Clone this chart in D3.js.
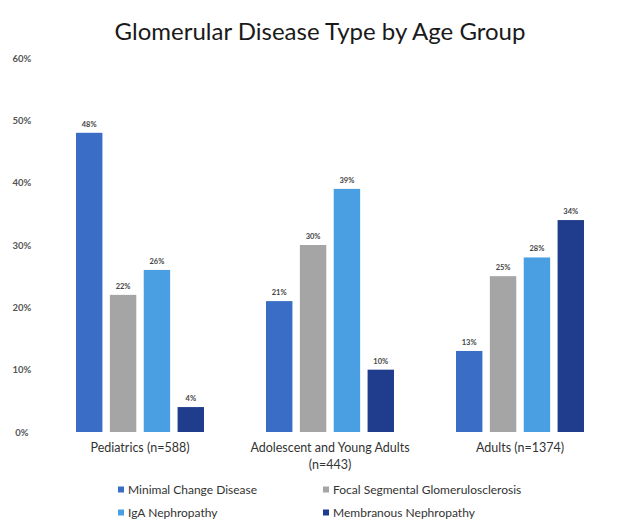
<!DOCTYPE html>
<html><head><meta charset="utf-8">
<script src="https://cdn.jsdelivr.net/npm/d3@7"></script>
<style>body{margin:0;background:#fff;}svg{display:block;font-family:Lato,"Open Sans",sans-serif;}</style>
</head><body>
<svg id="c" width="622" height="525"></svg>
<script>
const groups = ["Pediatrics (n=588)", "Adolescent and Young Adults (n=443)", "Adults (n=1374)"];
const groupLines = [["Pediatrics (n=588)"], ["Adolescent and Young Adults", "(n=443)"], ["Adults (n=1374)"]];
const series = ["Minimal Change Disease", "Focal Segmental Glomerulosclerosis", "IgA Nephropathy", "Membranous Nephropathy"];
const minimalChange = [0.48, 0.21, 0.13];
const fsgs = [0.22, 0.30, 0.25];
const igaNephropathy = [0.26, 0.39, 0.28];
const membranous = [0.04, 0.10, 0.34];
const yTicks = [0, 0.1, 0.2, 0.3, 0.4, 0.5, 0.6];
const colors = ["#3a6ec6", "#a5a5a5", "#4a9fe2", "#1f3d8c"];

const values = [minimalChange, fsgs, igaNephropathy, membranous];
const svg = d3.select("#c");

svg.append("text").attr("x", 320).attr("y", 40).attr("text-anchor", "middle")
  .attr("font-size", 24).attr("fill", "#1a1a1a").text("Glomerular Disease Type by Age Group");

const y = d3.scaleLinear().domain([0, 0.6]).range([432, 58]);
const x0 = d3.scaleBand().domain(groups).range([45, 615]);
const x1 = d3.scaleBand().domain(series).range([31, 159]).paddingInner(0.22);

const yAxis = svg.append("g").attr("transform", "translate(22,0)")
  .call(d3.axisLeft(y).tickValues(yTicks).tickFormat(d3.format(".0%")).tickSize(0));
yAxis.select(".domain").remove();
yAxis.selectAll("text").attr("text-anchor", "middle").attr("x", 0).attr("dy", "0.32em")
  .attr("font-size", 9.5).attr("font-family", "Lato, sans-serif").attr("fill", "#555").attr("font-weight", "bold");

const g = svg.append("g");
groups.forEach((grp, gi) => {
  series.forEach((s, si) => {
    const v = values[si][gi];
    const bx = x0(grp) + x1(s);
    g.append("rect").attr("x", bx).attr("y", y(v)).attr("width", x1.bandwidth())
      .attr("height", y(0) - y(v)).attr("fill", colors[si]);
    g.append("text").attr("x", bx + x1.bandwidth() / 2).attr("y", y(v) - 6)
      .attr("text-anchor", "middle").attr("font-size", 7.5).attr("font-weight", "bold")
      .attr("fill", "#444").text(d3.format(".0%")(v));
  });
});

const xAxis = svg.append("g");
groups.forEach((grp, gi) => {
  const cx = x0(grp) + x0.bandwidth() / 2;
  groupLines[gi].forEach((line, li) => {
    xAxis.append("text").attr("x", cx).attr("y", 452 + li * 17).attr("text-anchor", "middle")
      .attr("font-size", 12.5).attr("fill", "#333").text(line);
  });
});

const legendPos = [[118, 490], [323, 490], [118, 513], [323, 513]];
series.forEach((s, si) => {
  const [lx, ly] = legendPos[si];
  svg.append("rect").attr("x", lx).attr("y", ly - 3.5).attr("width", 6).attr("height", 6).attr("fill", colors[si]);
  svg.append("text").attr("x", lx + 10).attr("y", ly).attr("dy", "0.35em")
    .attr("font-size", 12).attr("fill", "#333").text(s);
});
</script>
</body></html>
